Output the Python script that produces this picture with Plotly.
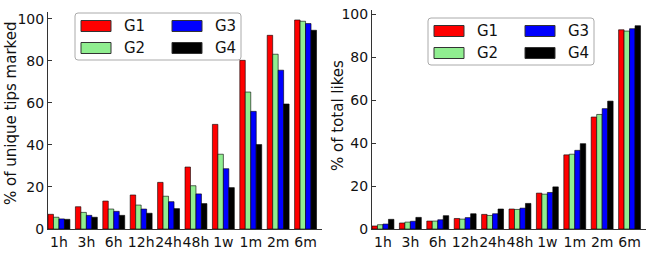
import plotly.graph_objects as go

categories = ["1h", "3h", "6h", "12h", "24h", "48h", "1w", "1m", "2m", "6m"]
groups = ["G1", "G2", "G3", "G4"]
colors = ["#ff0000", "#90ee90", "#0000ff", "#000000"]

# % of unique tips marked
tips_g1 = [7.0, 10.6, 13.3, 16.2, 22.2, 29.5, 49.8, 80.3, 92.2, 99.5]
tips_g2 = [5.6, 7.9, 9.5, 11.4, 15.6, 20.6, 35.6, 65.2, 83.2, 98.9]
tips_g3 = [4.8, 6.5, 8.4, 9.5, 13.0, 16.7, 28.7, 56.0, 75.6, 97.8]
tips_g4 = [4.6, 5.6, 6.5, 7.5, 9.7, 12.1, 19.7, 40.2, 59.5, 94.6]

# % of total likes
likes_g1 = [1.4, 2.8, 3.7, 4.9, 6.8, 9.3, 16.7, 34.5, 52.1, 92.7]
likes_g2 = [2.0, 3.2, 3.7, 4.6, 6.3, 9.1, 16.2, 34.8, 53.3, 92.1]
likes_g3 = [2.3, 3.6, 4.3, 5.3, 7.1, 9.7, 17.0, 36.6, 56.0, 93.2]
likes_g4 = [4.5, 5.4, 6.2, 7.1, 9.3, 11.9, 19.6, 39.7, 59.5, 94.6]

y_ticks = [0, 20, 40, 60, 80, 100]

W, H = 651, 254
FONT = "DejaVu Sans"

fig = go.Figure()

left_series = [tips_g1, tips_g2, tips_g3, tips_g4]
right_series = [likes_g1, likes_g2, likes_g3, likes_g4]

for i, (name, col) in enumerate(zip(groups, colors)):
    fig.add_trace(go.Bar(x=categories, y=left_series[i], name=name, marker_color=col,
                         marker_line=dict(color="#000000", width=0.6),
                         xaxis="x", yaxis="y", showlegend=False, offsetgroup=str(i)))
    fig.add_trace(go.Bar(x=categories, y=right_series[i], name=name, marker_color=col,
                         marker_line=dict(color="#000000", width=0.6),
                         xaxis="x2", yaxis="y2", showlegend=False, offsetgroup=str(i)))


def px_x(p):
    return p / W


def px_y(p):
    return 1 - p / H


axis_common = dict(
    showline=True, linecolor="#333333", linewidth=1, showgrid=False, zeroline=False,
    automargin=False, tickfont=dict(family=FONT, size=14, color="#111111"),
)

fig.update_layout(
    width=W, height=H,
    margin=dict(l=0, r=0, t=0, b=0),
    paper_bgcolor="white", plot_bgcolor="white",
    barmode="group", bargap=0.2, bargroupgap=0.0,
    xaxis=dict(domain=[px_x(48), px_x(322)], type="category", range=[-0.4, 9.6],
               ticks="", tickangle=0, anchor="y", **axis_common),
    yaxis=dict(domain=[px_y(229), px_y(12)], range=[0, 103.3], tickvals=y_ticks,
               ticks="inside", ticklen=4, tickcolor="#333333", anchor="x", **axis_common),
    xaxis2=dict(domain=[px_x(372), px_x(646)], type="category", range=[-0.4, 9.6],
                ticks="", tickangle=0, anchor="y2", **axis_common),
    yaxis2=dict(domain=[px_y(229), px_y(10)], range=[0, 101.9], tickvals=y_ticks,
                ticks="inside", ticklen=4, tickcolor="#333333", anchor="x2", **axis_common),
)

# axis titles
fig.add_annotation(text="% of unique tips marked", x=px_x(11), y=px_y(114), xref="paper", yref="paper",
                   textangle=-90, showarrow=False, xanchor="center", yanchor="middle",
                   font=dict(family=FONT, size=15, color="#111111"))
fig.add_annotation(text="% of total likes", x=px_x(338), y=px_y(116), xref="paper", yref="paper",
                   textangle=-90, showarrow=False, xanchor="center", yanchor="middle",
                   font=dict(family=FONT, size=15, color="#111111"))


# manual legends (pixel layout)
def rounded_box(x0, y0, x1, y1, r=3):
    X0, X1 = px_x(x0), px_x(x1)
    Y0, Y1 = px_y(y0), px_y(y1)
    rx, ry = r / W, r / H
    return (f"M{X0+rx},{Y0} L{X1-rx},{Y0} Q{X1},{Y0} {X1},{Y0-ry} "
            f"L{X1},{Y1+ry} Q{X1},{Y1} {X1-rx},{Y1} L{X0+rx},{Y1} "
            f"Q{X0},{Y1} {X0},{Y1+ry} L{X0},{Y0-ry} Q{X0},{Y0} {X0+rx},{Y0} Z")


def add_legend(bx, by):
    fig.add_shape(type="path", path=rounded_box(bx, by, bx + 166, by + 47),
                  xref="paper", yref="paper", line=dict(color="#aaaaaa", width=1),
                  fillcolor="white", layer="above")
    for k, (name, col) in enumerate(zip(groups, colors)):
        colk, row = divmod(k, 2)
        px0 = bx + 6 + colk * 91
        cy = by + 13 + row * 22
        fig.add_shape(type="rect", x0=px_x(px0), x1=px_x(px0 + 30),
                      y0=px_y(cy - 5.5), y1=px_y(cy + 5.5), xref="paper", yref="paper",
                      fillcolor=col, line=dict(color="#333333", width=1), layer="above")
        fig.add_annotation(text=name, x=px_x(px0 + 41), y=px_y(cy), xref="paper", yref="paper",
                           showarrow=False, xanchor="left", yanchor="middle",
                           font=dict(family=FONT, size=15, color="#111111"))


add_legend(75, 13)
add_legend(428, 18)

fig.write_html("out.html")
